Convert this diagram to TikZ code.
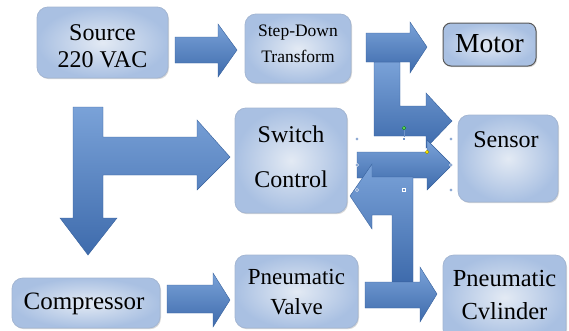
\documentclass[tikz,border=0pt]{standalone}
\usepackage{fontspec}
\usetikzlibrary{shadows}
\setmainfont{Liberation Serif}
\newfontfamily\tnr{Liberation Serif}
\definecolor{arL}{HTML}{7AA2D8}
\definecolor{arD}{HTML}{3E6BAC}
\definecolor{arE}{HTML}{36609C}
\definecolor{bxA}{HTML}{A9C0E2}
\definecolor{bxB}{HTML}{E3EAF4}
\definecolor{bxE}{HTML}{A3B6D3}
\definecolor{hnd}{HTML}{6F93C8}
\newcommand\myfs[2]{\tnr\fontsize{#1}{#2}\selectfont}
\begin{document}
\begin{tikzpicture}[x=1pt,y=-1pt,
  box/.style={draw=bxE, line width=0.8pt, rounded corners=11pt, inner color=bxB, outer color=bxA, inner sep=0pt,
    drop shadow={shadow xshift=1pt, shadow yshift=-1.2pt, opacity=0.35, fill=black!45}},
  lbl/.style={align=center, inner sep=0pt, text=black},
  harrow/.style={draw=arE, line width=0.4pt, top color=arL, bottom color=arD},
  handle/.style={fill=hnd, draw=white, line width=0.3pt},
]
\useasboundingbox (0,0) rectangle (569,330);
\clip (0,0) rectangle (569,330);

% boxes
\node[box, minimum width=131, minimum height=71] (src) at (102.5,42.5) {};
\node[lbl, font=\myfs{24}{27}] (srcL) at (102.5,45.9) {Source\\220 VAC};

\node[box, minimum width=106, minimum height=69] (sd) at (298,48.5) {};
\node[lbl, font=\myfs{17.5}{26}] (sdL) at (298,44) {Step-Down\\Transform};

\node[box, draw=black!65, line width=1pt, rounded corners=8pt, minimum width=93, minimum height=43] (mot) at (489.5,44.5) {};
\node[lbl, font=\myfs{27.5}{30}] (motL) at (489.5,43.8) {Motor};

\node[box, minimum width=112, minimum height=105] (sw) at (291,160.5) {};
\node[lbl, font=\myfs{24}{45}] (swL) at (291,156.3) {Switch\\Control};

\node[box, minimum width=100, minimum height=87] (sen) at (508,158.5) {};
\node[lbl, font=\myfs{24}{28}] (senL) at (506,139.8) {Sensor};

\node[box, minimum width=148, minimum height=50] (cmp) at (86,303) {};
\node[lbl, font=\myfs{25}{28}] (cmpL) at (84,304.2) {Compressor};

\node[box, minimum width=123, minimum height=73] (val) at (296.5,291.5) {};
\node[lbl, font=\myfs{23}{30}] (valL) at (296.5,292.2) {Pneumatic\\Valve};

\node[box, minimum width=123, minimum height=85] (cyl) at (504.5,297.5) {};
\node[lbl, font=\myfs{24.5}{33}] (cylL) at (504.5,295.2) {Pneumatic\\Cvlinder};

% block arrows
\path[harrow] (175,37) -- (218,37) -- (218,24) -- (237,50) -- (218,77) -- (218,63) -- (175,63) -- cycle;
\path[harrow] (374,62) -- (400,62) -- (400,106) -- (426,106) -- (426,93) -- (452,121) -- (426,148) -- (426,136) -- (374,136) -- cycle;
\path[harrow] (366,33) -- (410,33) -- (410,22) -- (427,47) -- (410,73) -- (410,62) -- (366,62) -- cycle;
\path[harrow] (357,152) -- (427,152) -- (427,140) -- (452,165) -- (427,190) -- (427,178) -- (357,178) -- cycle;
\path[harrow] (413,177) -- (413,282) -- (392,282) -- (392,215) -- (372,215) -- (372,229) -- (350,196) -- (372,164) -- (372,177) -- cycle;
\path[harrow] (73,107) -- (103,107) -- (103,137) -- (197,137) -- (197,120) -- (230,157) -- (197,190) -- (197,175) -- (103,175) -- (103,218) -- (117,218) -- (88,255) -- (60,218) -- (73,218) -- cycle;
\path[harrow] (167,285) -- (213,285) -- (213,273) -- (230,300) -- (213,327) -- (213,313) -- (167,313) -- cycle;
\path[harrow] (365,282) -- (420,282) -- (420,267) -- (437,294) -- (420,322) -- (420,308) -- (365,308) -- cycle;

% selection handles
\draw[hnd, line width=0.5pt] (404,128) -- (404,139);
\foreach \p in {(357,139),(451,139),(357,165),(451,165),(357,190),(451,190)}
  \fill[handle] \p circle (1.6);
\foreach \p in {(404,139),(404,190)}
  \path[handle] \p ++(-1.6,-1.6) rectangle ++(3.2,3.2);
\fill[draw=green!50!black, fill=green!70!black!60!white, line width=0.3pt] (404,128) circle (1.8);
\fill[draw=olive, fill=yellow!90!orange, line width=0.3pt] (427,152) circle (1.8);
\end{tikzpicture}
\end{document}
